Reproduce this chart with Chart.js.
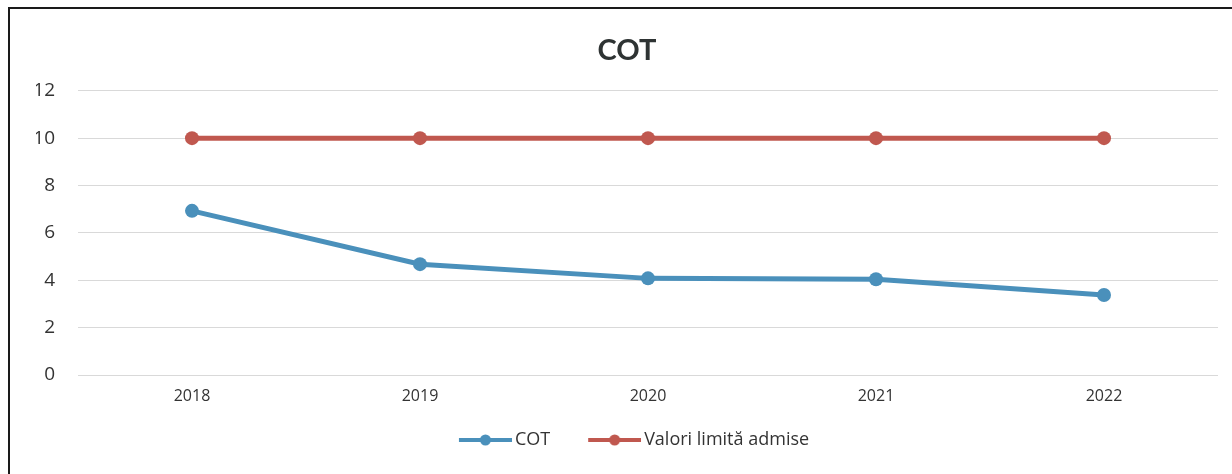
<!DOCTYPE html>
<html lang="ro">
<head>
    <meta charset="UTF-8">
    <title>COT</title>
    <script src="https://cdn.jsdelivr.net/npm/chart.js"></script>
    <style>
        html, body {
            margin: 0;
            padding: 0;
            background: #ffffff;
            overflow: hidden;
        }
        .wrap {
            position: relative;
            width: 1232px;
            height: 474px;
            overflow: hidden;
        }
        /* scanned frame: only left and top edges are visible */
        .frame {
            position: absolute;
            left: 8px;
            top: 7px;
            width: 1260px;
            height: 500px;
            border-left: 2px solid #1a1a1a;
            border-top: 2px solid #1a1a1a;
        }
        canvas {
            position: absolute;
            left: 0;
            top: 0;
        }
    </style>
</head>
<body>
<div class="wrap">
    <div class="frame"></div>
    <canvas id="cotChart" width="1232" height="474"></canvas>
</div>

<script>
    // data
    const years = ['2018', '2019', '2020', '2021', '2022'];
    const cotValues = [6.93, 4.68, 4.08, 4.04, 3.38];
    const limitValues = [10, 10, 10, 10, 10];
    const yTicks = [0, 2, 4, 6, 8, 10, 12];

    const blue = '#4a90bb';
    const red = '#c0584f';
    const fontName = '"Open Sans", Lato, sans-serif';

    // legend symbol: line with a marker in the middle (Excel style)
    // left part is transparent so the items sit further apart
    function legendSymbol(color) {
        const c = document.createElement('canvas');
        c.width = 73;
        c.height = 16;
        const g = c.getContext('2d');
        g.strokeStyle = color;
        g.lineWidth = 4;
        g.beginPath();
        g.moveTo(20, 8);
        g.lineTo(73, 8);
        g.stroke();
        g.fillStyle = color;
        g.beginPath();
        g.arc(46.5, 8, 5.5, 0, Math.PI * 2);
        g.fill();
        return c;
    }

    const ctx = document.getElementById('cotChart').getContext('2d');
    const cotChart = new Chart(ctx, {
        type: 'line',
        data: {
            labels: years,
            datasets: [
                {
                    label: 'COT',
                    data: cotValues,
                    borderColor: blue,
                    backgroundColor: blue,
                    borderWidth: 5,
                    pointRadius: 7,
                    pointBorderWidth: 0,
                    tension: 0
                },
                {
                    label: 'Valori limită admise',
                    data: limitValues,
                    borderColor: red,
                    backgroundColor: red,
                    borderWidth: 5,
                    pointRadius: 7,
                    pointBorderWidth: 0,
                    tension: 0
                }
            ]
        },
        options: {
            responsive: false,
            animation: false,
            layout: {
                padding: { left: 36, right: 14, top: 0, bottom: 15 }
            },
            plugins: {
                title: {
                    display: true,
                    text: 'COT',
                    color: '#2e3333',
                    font: { family: 'Lato, sans-serif', size: 29, weight: 'bold' },
                    padding: { top: 33, bottom: 23 }
                },
                legend: {
                    position: 'bottom',
                    labels: {
                        color: '#333333',
                        font: { family: fontName, size: 18 },
                        usePointStyle: true,
                        pointStyleWidth: 61,
                        padding: 24,
                        generateLabels: (chart) => {
                            const items = Chart.defaults.plugins.legend.labels.generateLabels(chart);
                            items.forEach((item, i) => {
                                item.pointStyle = legendSymbol(chart.data.datasets[i].borderColor);
                            });
                            return items;
                        }
                    }
                },
                tooltip: { enabled: false }
            },
            scales: {
                x: {
                    offset: true,
                    grid: { display: false, drawTicks: false },
                    border: { display: false },
                    ticks: {
                        color: '#333333',
                        font: { family: fontName, size: 16 },
                        padding: 12
                    },
                    afterFit: (scale) => { scale.height = 32; }
                },
                y: {
                    min: 0,
                    max: 12,
                    grid: { color: '#d9d9d9', lineWidth: 1, drawTicks: false },
                    border: { display: false },
                    afterBuildTicks: (scale) => {
                        scale.ticks = yTicks.map(v => ({ value: v }));
                    },
                    ticks: {
                        color: '#333333',
                        font: { family: fontName, size: 19 },
                        padding: 23
                    },
                    afterFit: (scale) => { scale.width = 42; }
                }
            }
        }
    });
</script>
</body>
</html>
